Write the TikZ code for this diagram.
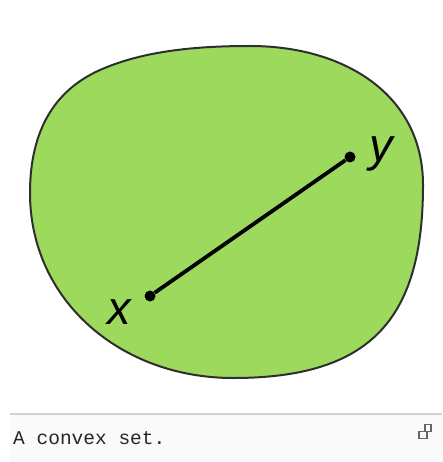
\documentclass[tikz,border=0pt]{standalone}
\usepackage{fontspec}
\setmainfont{Liberation Sans}
\newfontfamily\capfont{Liberation Mono}
\definecolor{setgreen}{HTML}{9CD95D}
\definecolor{edgegray}{HTML}{2E2E2E}
\begin{document}
\begin{tikzpicture}[x=1pt,y=-1pt,
  dot/.style={circle,fill=black,inner sep=0pt,minimum size=11pt},
  lbl/.style={font=\fontsize{47}{47}\selectfont\itshape,inner sep=0pt},
  seg/.style={line width=3.8pt}]
\useasboundingbox (0,0) rectangle (442,462);
% convex set
\filldraw[fill=setgreen,draw=edgegray,line width=2pt]
  (250,46) .. controls (345,46) and (423,95) .. (423,185)
  .. controls (423,320) and (370,378) .. (233,378)
  .. controls (120,378) and (30,300) .. (30,193)
  .. controls (30,130) and (55,90) .. (100,70)
  .. controls (145,50) and (200,46) .. (250,46) -- cycle;
\node[dot] (x) at (150,296) {};
\node[dot] (y) at (350,157) {};
\draw[seg] (x) -- (y);
\node[lbl,anchor=base] (xl) at (119,324) {x};
\node[lbl,anchor=base] (yl) at (381,162) {y};
% caption
\fill[gray!4] (10,415) rectangle (442,462);
\draw[gray!35,line width=1.5pt] (10,414) -- (442,414);
\node[font=\capfont\fontsize{19.5}{19.5}\selectfont,anchor=base west,inner sep=0pt,text=black!85] (cap) at (13,444) {A convex set.};
\node[draw=gray!80!black,line width=1.5pt,minimum width=8pt,minimum height=7pt,inner sep=0pt] (icb) at (423,435) {};
\node[draw=gray!80!black,line width=1.5pt,minimum width=6pt,minimum height=7pt,inner sep=0pt] (ict) at (428,428) {};
\end{tikzpicture}
\end{document}
